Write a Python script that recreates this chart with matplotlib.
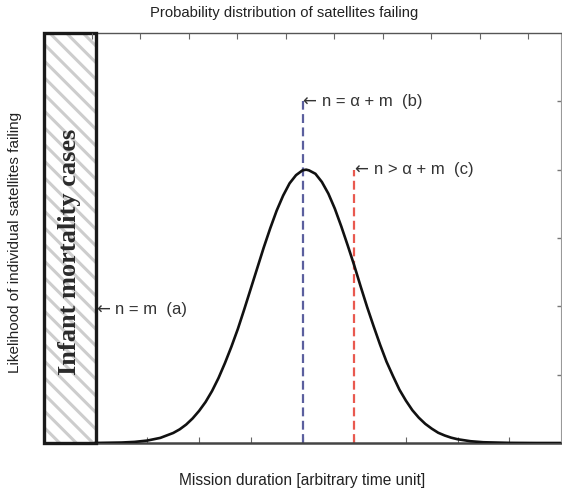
import matplotlib
matplotlib.use("Agg")
import matplotlib.pyplot as plt
from matplotlib.patches import Rectangle

plt.rcParams['font.family'] = ['Liberation Sans', 'DejaVu Sans']
plt.rcParams['hatch.linewidth'] = 2.2

# Curve
mission_time = [1.0, 1.5, 1.75, 2.0, 2.25, 2.5, 2.625, 2.75, 2.875, 3.0, 3.125, 3.25, 3.375,
                3.5, 3.625, 3.75, 3.875, 4.0, 4.125, 4.25, 4.375, 4.5, 4.625, 4.75, 4.875,
                5.0, 5.07, 5.125, 5.25, 5.375, 5.5, 5.625, 5.75, 5.875, 6.0, 6.125, 6.25,
                6.375, 6.5, 6.625, 6.75, 6.875, 7.0, 7.125, 7.25, 7.375, 7.5, 7.625, 7.75,
                7.875, 8.0, 8.25, 8.5, 9.0, 9.5, 10.0]
likelihood = [0.001, 0.007, 0.016, 0.036, 0.075, 0.147, 0.20, 0.27, 0.36, 0.47, 0.60, 0.76, 0.95,
              1.17, 1.41, 1.67, 1.96, 2.26, 2.56, 2.86, 3.14, 3.40, 3.62, 3.80, 3.92,
              3.99, 4.0, 3.99, 3.94, 3.82, 3.65, 3.43, 3.17, 2.89, 2.60, 2.29, 1.99,
              1.71, 1.44, 1.19, 0.98, 0.78, 0.62, 0.48, 0.37, 0.28, 0.21, 0.15, 0.11,
              0.078, 0.055, 0.026, 0.011, 0.002, 0.0, 0.0]

# Marker lines: (x position, top height, label, color)
marker_x = [1.0, 5.0, 6.0]
marker_top = [1.95, 5.0, 4.0]
marker_labels = ["n = m  (a)", "n = α + m  (b)", "n > α + m  (c)"]
marker_colors = ['#e9594f', '#5b5f9e', '#e9594f']

infant_zone = (0.0, 1.0)
infant_label = "Infant mortality cases"

title = "Probability distribution of satellites failing"
xlabel = "Mission duration [arbitrary time unit]"
ylabel = "Likelihood of individual satellites failing"

fig = plt.figure(figsize=(5.62, 4.9), dpi=100)
ax = fig.add_axes([44/562, 47/490, 517/562, 410/490])
ax.set_xlim(0, 10)
ax.set_ylim(0, 6)

# Infant mortality hatched zone: hatch layer then border
w = infant_zone[1] - infant_zone[0]
hatch_rect = Rectangle((infant_zone[0], 0), w, 6, facecolor='white', edgecolor='#cdcdcd',
                       hatch='\\\\', linewidth=0, zorder=3, clip_on=False)
ax.add_patch(hatch_rect)
border = Rectangle((infant_zone[0], 0), w, 6, facecolor='none', edgecolor='#1a1a1a',
                   linewidth=2.4, zorder=4, clip_on=False)
ax.add_patch(border)
ax.text((infant_zone[0]+infant_zone[1])/2, 2.8, infant_label, rotation=90,
        ha='center', va='center', fontsize=19, fontweight='bold',
        family=['Liberation Serif', 'DejaVu Serif'], color='#2a2a2a', zorder=5)

# Marker lines
for mx, mt, lab, col in zip(marker_x, marker_top, marker_labels, marker_colors):
    ax.plot([mx, mx], [0, mt], color=col, linestyle=(0, (4, 2)), linewidth=1.6, zorder=2)
    ax.annotate("←", xy=(mx, mt), xytext=(0, 0), textcoords='offset points',
                ha='left', va='center', fontsize=12, color='#333333',
                family=['DejaVu Sans'])
    ax.annotate(lab, xy=(mx, mt), xytext=(14, 0), textcoords='offset points',
                ha='left', va='center', fontsize=12, color='#333333')

# Curve
ax.plot(mission_time, likelihood, color='#111111', linewidth=1.9, zorder=6)

# Spines & ticks
ax.spines['left'].set_visible(False)
ax.spines['bottom'].set_color('#444444')
ax.spines['bottom'].set_linewidth(1.8)
ax.spines['top'].set_color('#555555')
ax.spines['top'].set_linewidth(1.0)
ax.spines['right'].set_color('#999999')
ax.spines['right'].set_linewidth(0.8)

ax.set_xticks(range(1, 10))
ax.set_yticks(range(1, 6))
ax.tick_params(axis='x', direction='in', length=4, width=0.8, color='#666666',
               labelbottom=False, bottom=True)
ax.tick_params(axis='y', direction='in', length=3, width=1.0, color='#777777',
               left=False, right=True, labelleft=False, labelright=False)

top = ax.twiny()
top.set_xlim(-0.99, 9.68)
top.set_xticks(range(0, 10))
top.tick_params(axis='x', direction='in', length=4, width=0.8, color='#666666',
                labeltop=False)
for s in top.spines.values():
    s.set_visible(False)

fig.text(284/562, 1-13/490, title, ha='center', va='center', fontsize=10.7, color='#222222')
fig.text(302/562, 1-480/490, xlabel, ha='center', va='center', fontsize=11.2, color='#222222')
fig.text(15/562, 1-242/490, ylabel, ha='center', va='center', rotation=90, fontsize=11,
         color='#222222')

fig.savefig("out.png", dpi=100)
